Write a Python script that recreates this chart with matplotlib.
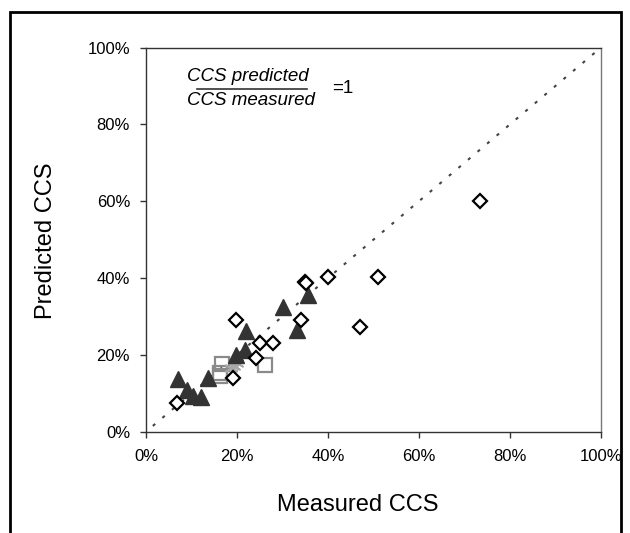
import matplotlib
matplotlib.use("Agg")
import matplotlib.pyplot as plt
from matplotlib.patches import Rectangle
from matplotlib.ticker import PercentFormatter

plt.rcParams['font.family'] = ['Liberation Sans', 'DejaVu Sans']

# Data (percent)
diamond_x = [6.9, 19.1, 19.8, 24.1, 25.1, 28.0, 34.0, 35.0, 35.1, 39.9, 47.0, 50.9, 73.5]
diamond_y = [7.5, 14.0, 29.2, 19.1, 23.2, 23.2, 29.2, 39.0, 38.8, 40.2, 27.2, 40.2, 60.0]

triangle_x = [7.0, 9.0, 10.3, 12.0, 13.7, 19.7, 21.8, 22.0, 30.2, 33.2, 35.5]
triangle_y = [13.8, 10.8, 9.4, 9.0, 14.0, 20.0, 21.2, 26.3, 32.4, 26.6, 35.7]

square_x = [16.8, 16.3, 16.3, 26.1]
square_y = [17.7, 15.4, 14.5, 17.3]

star_x = [18.6, 19.3, 20.0]
star_y = [16.6, 17.2, 17.8]

line_x = [1.5, 99.4]
line_y = [1.5, 99.4]

xticks = [0, 20, 40, 60, 80, 100]
yticks = [0, 20, 40, 60, 80, 100]

W, H = 630, 533
fig = plt.figure(figsize=(W / 100, H / 100), dpi=100)
fig.patch.set_facecolor('white')

# figure border
fig.patches.append(Rectangle((10 / W, -0.05), (621 - 10) / W, 1.05 - 11.5 / H,
                             transform=fig.transFigure, fill=False,
                             edgecolor='black', linewidth=2, zorder=10))

ax = fig.add_axes([146 / W, 1 - 431.7 / H, (601 - 146) / W, (431.7 - 47.5) / H])
ax.set_xlim(0, 100)
ax.set_ylim(0, 100)

ax.plot(line_x, line_y, linestyle=(0, (1.5, 4.5)), color='#444444', linewidth=1.5, zorder=1)

ax.plot(square_x, square_y, linestyle='none', marker='s', markersize=10.5,
        markerfacecolor='none', markeredgecolor='#8a8a8a', markeredgewidth=1.6, zorder=2)
ax.plot(star_x, star_y, linestyle='none', marker=(6, 2, 0), markersize=10,
        color='#a8a8a8', markeredgewidth=1.2, zorder=2)
ax.plot(triangle_x, triangle_y, linestyle='none', marker='^', markersize=12,
        markerfacecolor='#333333', markeredgecolor='#333333', zorder=3)
ax.plot(diamond_x, diamond_y, linestyle='none', marker='D', markersize=7.3,
        markerfacecolor='white', markeredgecolor='black', markeredgewidth=1.6, zorder=4)

ax.set_xticks(xticks)
ax.set_yticks(yticks)
ax.xaxis.set_major_formatter(PercentFormatter(decimals=0))
ax.yaxis.set_major_formatter(PercentFormatter(decimals=0))
ax.tick_params(axis='both', direction='out', length=4, width=1, color='#333333',
               labelsize=12, labelcolor='black')
ax.tick_params(axis='x', pad=8.5)
ax.tick_params(axis='y', pad=7.5)
for s in ax.spines.values():
    s.set_color('#333333')
    s.set_linewidth(1)
ax.spines['right'].set_color('#777777')

# fraction annotation
ax.text(22.4, 92.5, 'CCS predicted', style='italic', fontsize=13.5, ha='center', va='center')
ax.plot([11.1, 35.3], [89.1, 89.1], color='#333333', linewidth=1.2)
ax.text(23.1, 86.2, 'CCS measured', style='italic', fontsize=13.5, ha='center', va='center')
ax.text(43.3, 89.4, '=1', fontsize=13.5, ha='center', va='center')

fig.text(358 / W, 1 - 511 / H, 'Measured CCS', fontsize=17, ha='center', va='baseline')
fig.text(51.5 / W, 1 - 241 / H, 'Predicted CCS', fontsize=17, rotation=90,
         rotation_mode='anchor', ha='center', va='baseline')

fig.savefig('out.png', dpi=100)
